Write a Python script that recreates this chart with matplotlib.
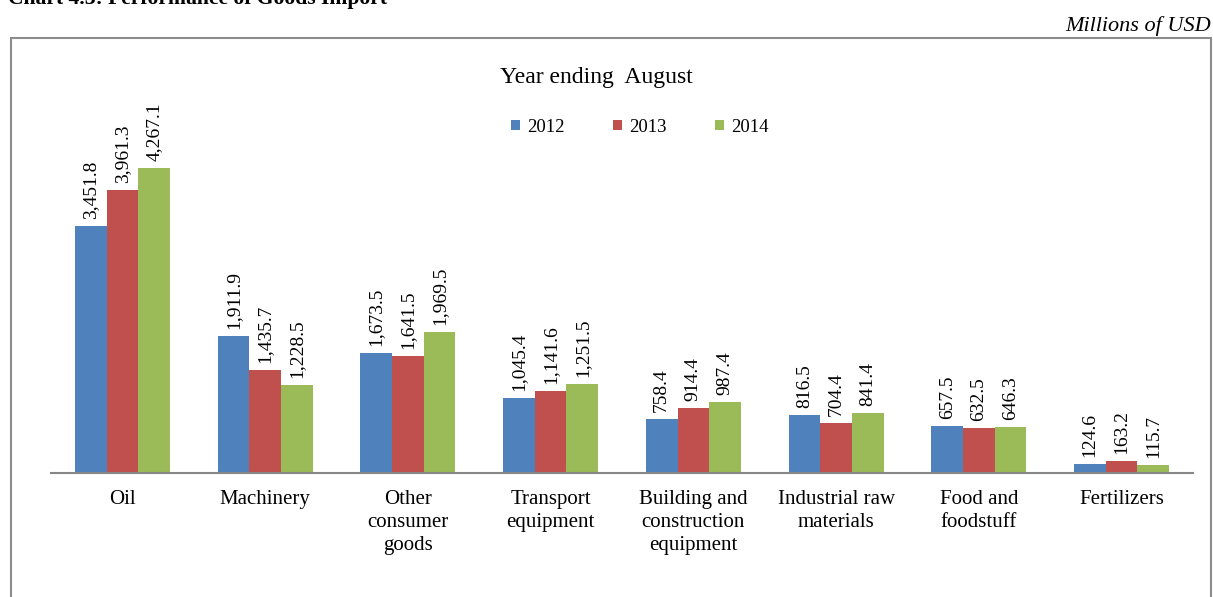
import matplotlib.pyplot as plt
import numpy as np
from matplotlib.patches import Rectangle

categories = ["Oil", "Machinery", "Other\nconsumer\ngoods", "Transport\nequipment",
              "Building and\nconstruction\nequipment", "Industrial raw\nmaterials",
              "Food and\nfoodstuff", "Fertilizers"]
years = ["2012", "2013", "2014"]
v2012 = [3451.8, 1911.9, 1673.5, 1045.4, 758.4, 816.5, 657.5, 124.6]
v2013 = [3961.3, 1435.7, 1641.5, 1141.6, 914.4, 704.4, 632.5, 163.2]
v2014 = [4267.1, 1228.5, 1969.5, 1251.5, 987.4, 841.4, 646.3, 115.7]
colors = ["#4F81BD", "#C0504D", "#9BBB59"]

plt.rcParams["font.family"] = ["Liberation Serif", "DejaVu Serif"]

W, H = 1213, 597
fig = plt.figure(figsize=(W / 100, H / 100), dpi=100)

# outer frame (cut off at the bottom)
fig.patches.append(Rectangle((11 / W, -0.2), 1200 / W, 1.2 - 38 / H,
                             transform=fig.transFigure, fill=False,
                             edgecolor="#8c8c8c", linewidth=1.5, clip_on=False))

fig.text(8 / W, 1 - 4 / H, "Chart 4.3: Performance of Goods Import",
         fontsize=15.6, fontweight="bold", va="baseline", ha="left")
fig.text(1211 / W, 1 - 31 / H, "Millions of USD", fontsize=16, style="italic",
         va="baseline", ha="right")
fig.text(596 / W, 1 - 77 / H, "Year ending  August", fontsize=17,
         va="center", ha="center")

ax = fig.add_axes([51 / W, 1 - 473 / H, 1142 / W, 373 / H])
ax.set_ylim(0, 373 / 0.0715)
x = np.arange(len(categories))
ax.set_xlim(-0.5, len(categories) - 0.5)
bw = 0.222
for i, (vals, c, yr) in enumerate(zip([v2012, v2013, v2014], colors, years)):
    bars = ax.bar(x + (i - 1) * bw, vals, bw, color=c, label=yr, zorder=2)
    for b, v in zip(bars, vals):
        ax.annotate(f"{v:,.1f}", (b.get_x() + b.get_width() / 2, b.get_height()),
                    xytext=(0, 5), textcoords="offset points", rotation=90,
                    ha="center", va="bottom", fontsize=14)

for s in ["top", "left", "right"]:
    ax.spines[s].set_visible(False)
ax.spines["bottom"].set_color("#868686")
ax.spines["bottom"].set_linewidth(1.5)
ax.set_yticks([])
ax.set_xticks(x)
ax.set_xticklabels(categories, fontsize=15, linespacing=1.3)
ax.tick_params(axis="x", length=0, pad=12)

ax.legend(loc="center", bbox_to_anchor=(640 / W, 1 - 127 / H),
          bbox_transform=fig.transFigure, ncol=3, frameon=False, fontsize=13.5,
          handlelength=0.45, handleheight=0.45, handletextpad=0.4, columnspacing=2.6)

fig.savefig("out.png", dpi=100)
